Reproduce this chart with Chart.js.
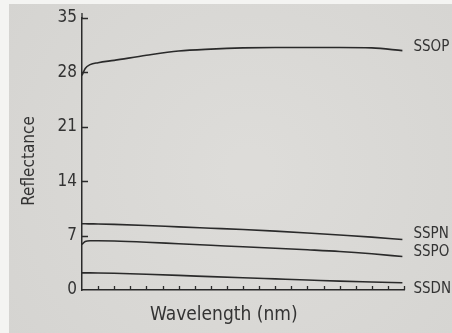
<!DOCTYPE html>
<html>
<head>
<meta charset="utf-8">
<title>Reflectance</title>
<script src="https://cdn.jsdelivr.net/npm/chart.js@4.4.1/dist/chart.umd.min.js"></script>
<style>
  html, body { margin: 0; padding: 0; background: #f4f4f2; }
  canvas { display: block; }
</style>
</head>
<body>
<canvas id="reflChart" width="452" height="333"></canvas>
<script>
// positions along the wavelength axis, counted in tick intervals (axis runs 0-20)
const wavelength = [0, 0.2, 0.5, 1, 2, 4, 6, 8, 10, 12, 14, 16, 18, 19.9];

const ssop = [27.6, 28.5, 29.0, 29.25, 29.55, 30.2, 30.75, 31.0, 31.15, 31.2, 31.2, 31.2, 31.15, 30.8];
const sspn = [8.52, 8.52, 8.51, 8.5, 8.45, 8.3, 8.12, 7.95, 7.78, 7.57, 7.33, 7.07, 6.8, 6.5];
const sspo = [5.86, 6.25, 6.33, 6.33, 6.3, 6.15, 5.95, 5.76, 5.56, 5.38, 5.18, 4.96, 4.66, 4.31];
const ssdn = [2.2, 2.2, 2.2, 2.19, 2.15, 2.02, 1.88, 1.72, 1.57, 1.43, 1.29, 1.14, 1.03, 0.93];

const seriesNames = ['SSOP', 'SSPN', 'SSPO', 'SSDN'];
const yTicks = [0, 7, 14, 21, 28, 35];

const ink = '#2a2a2a';
const face = "'DejaVu Sans Condensed', 'DejaVu Sans', sans-serif";

function points(values) {
  return wavelength.map((w, i) => ({ x: w, y: values[i] }));
}

function curve(name, values, labelShift) {
  return {
    label: name,
    data: points(values),
    borderColor: ink,
    borderWidth: 1.6,
    pointRadius: 0,
    fill: false,
    cubicInterpolationMode: 'monotone',
    labelShift: labelShift
  };
}

// paper background, inner tick marks, curve names and axis titles
const paperAndMarks = {
  id: 'paperAndMarks',
  beforeDraw(chart) {
    const { ctx, width, height } = chart;
    const g = ctx.createRadialGradient(250, 170, 20, 250, 170, 330);
    g.addColorStop(0, '#dddcd9');
    g.addColorStop(1, '#d4d3d0');
    ctx.save();
    ctx.fillStyle = '#f4f4f2';
    ctx.fillRect(0, 0, width, height);
    ctx.fillStyle = g;
    ctx.fillRect(9, 4, width - 9, height - 4);
    ctx.restore();
  },
  afterDraw(chart) {
    const { ctx, chartArea } = chart;
    const x = chart.scales.x, y = chart.scales.y;
    ctx.save();
    ctx.strokeStyle = ink;
    ctx.lineWidth = 1.3;
    ctx.beginPath();
    for (let i = 1; i <= 20; i++) {
      const px = Math.round(x.getPixelForValue(i)) + 0.5;
      ctx.moveTo(px, chartArea.bottom);
      ctx.lineTo(px, chartArea.bottom - 4);
    }
    yTicks.slice(1).forEach(v => {
      const py = Math.round(y.getPixelForValue(v)) + 0.5;
      ctx.moveTo(chartArea.left, py);
      ctx.lineTo(chartArea.left + 6, py);
    });
    // axis runs a little past the top tick
    ctx.moveTo(chartArea.left, chartArea.top);
    ctx.lineTo(chartArea.left, chartArea.top - 5);
    ctx.stroke();

    ctx.fillStyle = '#333';
    ctx.font = '15px ' + face;
    ctx.textBaseline = 'middle';
    ctx.textAlign = 'left';
    chart.data.datasets.forEach(ds => {
      const last = ds.data[ds.data.length - 1];
      ctx.fillText(ds.label, x.getPixelForValue(last.x) + 11, y.getPixelForValue(last.y) + ds.labelShift);
    });

    ctx.font = '19px ' + face;
    ctx.fillText('Wavelength (nm)', 150, 315);

    ctx.font = '17px ' + face;
    ctx.translate(30, 161);
    ctx.rotate(-Math.PI / 2);
    ctx.textAlign = 'center';
    ctx.fillText('Reflectance', 0, 0);
    ctx.restore();
  }
};

new Chart(document.getElementById('reflChart'), {
  type: 'line',
  data: {
    datasets: [
      curve(seriesNames[0], ssop, -4),
      curve(seriesNames[1], sspn, -5),
      curve(seriesNames[2], sspo, -4),
      curve(seriesNames[3], ssdn, 6)
    ]
  },
  options: {
    responsive: false,
    animation: false,
    layout: { padding: { top: 18, right: 48, bottom: 0, left: 0 } },
    plugins: {
      legend: { display: false },
      tooltip: { enabled: false }
    },
    scales: {
      x: {
        type: 'linear',
        min: 0,
        max: 20,
        grid: { display: false },
        border: { display: true, color: ink, width: 1.5 },
        ticks: { display: false },
        afterFit(scale) { scale.height = 43; }
      },
      y: {
        min: 0,
        max: 35,
        grid: { display: false, drawTicks: false },
        border: { display: true, color: ink, width: 1.5 },
        afterBuildTicks(scale) { scale.ticks = yTicks.map(v => ({ value: v })); },
        ticks: {
          padding: 5,
          color: '#333',
          font: { family: face, size: 17 }
        },
        afterFit(scale) { scale.width = 82; }
      }
    }
  },
  plugins: [paperAndMarks]
});
</script>
</body>
</html>
